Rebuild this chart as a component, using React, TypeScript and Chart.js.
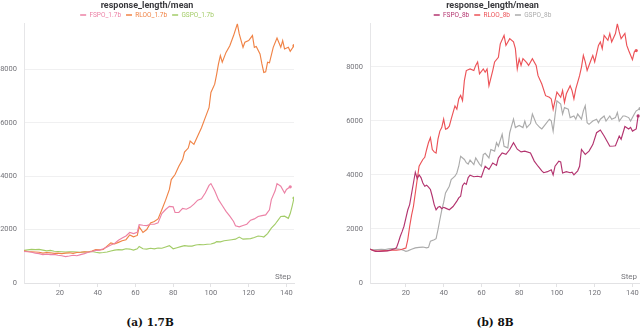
import React, { useEffect, useRef } from "react";
import { Chart, registerables } from "chart.js";

Chart.register(...registerables);

const TITLE = "response_length/mean";
const X_TICKS = [20, 40, 60, 80, 100, 120, 140];
const Y_TICKS = [0, 2000, 4000, 6000, 8000];
const X_MIN = 1;
const X_MAX = 144;

// ---------- (a) 1.7B ----------
const FSPO_17B_STEPS = [1, 3, 5, 7, 9, 11, 13, 15, 17, 19, 21, 23, 25, 27, 29, 31, 33, 35, 37, 39, 41, 43, 45, 47, 49, 51, 53, 55, 57, 59, 61, 62, 64, 66, 68, 70, 72, 74, 76, 78, 80, 81, 83, 85, 87, 89, 91, 93, 95, 97, 99, 100, 102, 104, 106, 108, 110, 112, 113, 115, 117, 119, 121, 123, 125, 127, 129, 131, 132, 134, 135, 137, 139, 140, 142];
const FSPO_17B_VALUES = [1180, 1170, 1150, 1120, 1100, 1060, 1080, 1060, 1070, 1040, 1020, 990, 1010, 1040, 1020, 1060, 1100, 1150, 1180, 1220, 1230, 1280, 1350, 1420, 1480, 1600, 1680, 1760, 1890, 1850, 1900, 2180, 2160, 2150, 2200, 2200, 2250, 2600, 2750, 2870, 2850, 2640, 2640, 2790, 2760, 2830, 2950, 3100, 3150, 3370, 3650, 3720, 3450, 3120, 2900, 2680, 2500, 2300, 2140, 2100, 2150, 2200, 2350, 2400, 2490, 2520, 2550, 2740, 3120, 3450, 3720, 3620, 3370, 3500, 3600];

const RLOO_17B_STEPS = [1, 3, 5, 7, 9, 11, 13, 15, 17, 19, 21, 23, 25, 27, 29, 31, 33, 35, 37, 39, 41, 43, 45, 47, 49, 51, 53, 55, 57, 59, 61, 62, 63, 64, 66, 68, 70, 72, 74, 76, 78, 79, 81, 83, 85, 86, 88, 89, 91, 93, 95, 97, 99, 100, 102, 103, 104, 105, 106, 108, 110, 112, 114, 115, 117, 118, 120, 122, 123, 124, 126, 127, 128, 129, 130, 131, 133, 135, 137, 138, 139, 141, 142, 144];
const RLOO_17B_VALUES = [1200, 1180, 1170, 1160, 1150, 1120, 1140, 1130, 1110, 1120, 1100, 1120, 1130, 1110, 1140, 1150, 1170, 1160, 1200, 1250, 1240, 1260, 1380, 1500, 1460, 1520, 1580, 1620, 1800, 1730, 1780, 2100, 2000, 1890, 2000, 2250, 2300, 2400, 2740, 3100, 3500, 3870, 4060, 4370, 4620, 4900, 5050, 5310, 5190, 5500, 5810, 6190, 6560, 7130, 7440, 7800, 8200, 8510, 8260, 8630, 8880, 9260, 9700, 9320, 8820, 9010, 9070, 9260, 8820, 8850, 8570, 8200, 7880, 7900, 8260, 8240, 8820, 9170, 8820, 9070, 8760, 8820, 8670, 8880];

const GSPO_17B_STEPS = [1, 3, 5, 7, 9, 11, 13, 15, 17, 19, 21, 23, 25, 27, 29, 31, 33, 35, 37, 39, 41, 43, 45, 47, 49, 51, 53, 55, 57, 59, 61, 62, 64, 66, 68, 70, 72, 74, 76, 78, 80, 82, 84, 86, 88, 90, 92, 94, 96, 98, 100, 102, 103, 105, 107, 109, 111, 113, 115, 117, 119, 121, 123, 125, 127, 128, 130, 132, 134, 135, 137, 139, 141, 142, 143, 144];
const GSPO_17B_VALUES = [1220, 1240, 1260, 1250, 1260, 1230, 1200, 1220, 1190, 1180, 1170, 1160, 1170, 1170, 1160, 1150, 1160, 1160, 1180, 1150, 1130, 1140, 1160, 1200, 1230, 1250, 1240, 1280, 1270, 1230, 1280, 1370, 1280, 1270, 1300, 1280, 1310, 1300, 1350, 1400, 1280, 1320, 1360, 1400, 1380, 1380, 1420, 1440, 1430, 1450, 1460, 1500, 1550, 1540, 1580, 1600, 1620, 1640, 1720, 1640, 1650, 1660, 1700, 1760, 1740, 1720, 1850, 2050, 2200, 2300, 2490, 2500, 2420, 2600, 2870, 3180];

// ---------- (b) 8B ----------
const FSPO_8B_STEPS = [1, 2, 4, 6, 8, 10, 12, 14, 15, 16, 17, 18, 19, 20, 21, 22, 23, 24, 25, 26, 27, 28, 29, 30, 31, 32, 33, 34, 35, 36, 37, 38, 39, 40, 41, 43, 45, 47, 48, 49, 50, 51, 52, 53, 54, 56, 58, 60, 61, 62, 64, 66, 68, 69, 71, 73, 75, 77, 79, 81, 83, 86, 88, 90, 92, 93, 95, 97, 98, 99, 101, 102, 103, 105, 107, 108, 109, 111, 112, 113, 115, 117, 119, 121, 123, 125, 127, 128, 130, 131, 133, 134, 136, 138, 139, 140, 142, 143];
const FSPO_8B_VALUES = [1260, 1220, 1170, 1170, 1180, 1190, 1220, 1270, 1300, 1500, 1720, 1900, 2100, 2400, 2700, 2900, 3300, 3700, 4100, 3860, 4000, 3900, 3700, 3580, 3620, 3550, 3460, 3200, 2900, 2710, 2800, 2830, 2750, 2800, 2770, 2710, 2830, 3030, 3150, 3210, 3600, 3700, 3650, 3900, 3990, 3930, 3950, 3920, 4130, 4320, 4200, 4440, 4350, 4630, 4810, 4760, 4940, 5190, 4950, 4850, 4880, 4810, 4510, 4320, 4150, 4080, 4120, 4190, 4000, 4320, 4510, 4480, 4070, 4120, 4080, 4100, 4000, 4150, 4320, 4940, 4760, 4880, 5120, 5560, 5660, 5440, 5190, 5060, 5070, 5080, 5440, 5320, 5790, 5700, 5760, 5620, 5700, 6180];

const RLOO_8B_STEPS = [1, 3, 5, 7, 9, 11, 13, 15, 17, 18, 19, 20, 21, 22, 23, 24, 25, 26, 27, 28, 29, 30, 31, 32, 33, 34, 35, 36, 37, 38, 39, 40, 41, 42, 43, 44, 46, 47, 48, 49, 50, 51, 52, 54, 56, 57, 58, 59, 61, 62, 63, 64, 66, 67, 69, 70, 72, 73, 75, 77, 78, 79, 80, 81, 82, 84, 85, 87, 89, 90, 92, 94, 96, 97, 98, 99, 100, 102, 103, 104, 105, 107, 108, 109, 110, 112, 113, 114, 115, 116, 118, 119, 120, 122, 123, 124, 125, 127, 128, 129, 131, 132, 133, 134, 136, 137, 138, 140, 141, 142];
const RLOO_8B_VALUES = [1250, 1200, 1180, 1190, 1200, 1200, 1220, 1210, 1230, 1250, 1270, 1290, 1600, 2090, 2500, 2830, 3330, 3830, 4320, 4450, 4570, 4650, 4940, 5200, 5380, 4940, 4850, 4810, 5320, 5620, 5750, 6060, 5690, 5720, 5800, 6060, 6550, 6430, 6810, 6940, 6750, 7500, 7860, 7920, 7860, 8050, 8180, 7740, 7920, 7800, 7920, 7300, 7860, 8180, 8350, 8850, 9160, 8790, 9040, 8920, 8670, 7920, 8290, 8050, 8300, 8150, 8050, 8300, 8050, 7670, 7360, 6930, 6870, 6810, 6430, 6750, 7060, 6870, 7120, 6680, 7000, 7300, 7120, 6810, 7180, 7670, 7990, 8420, 8180, 7860, 8240, 8420, 8180, 8790, 8920, 8670, 9160, 8980, 9230, 8920, 9230, 9590, 9290, 9040, 9230, 8790, 8600, 8260, 8550, 8600];

const GSPO_8B_STEPS = [1, 3, 5, 7, 9, 11, 13, 15, 17, 19, 20, 21, 23, 25, 27, 29, 31, 32, 33, 35, 36, 37, 38, 39, 40, 41, 43, 44, 46, 47, 48, 49, 51, 52, 53, 54, 56, 57, 59, 60, 61, 62, 64, 65, 67, 68, 69, 71, 72, 74, 75, 77, 78, 80, 82, 83, 84, 86, 87, 89, 91, 92, 94, 96, 97, 98, 99, 100, 102, 103, 104, 106, 107, 109, 110, 111, 113, 114, 115, 116, 117, 119, 121, 122, 123, 125, 126, 128, 129, 131, 132, 133, 135, 136, 138, 139, 141, 142, 144];
const GSPO_8B_VALUES = [1250, 1230, 1240, 1250, 1240, 1260, 1270, 1260, 1250, 1200, 1170, 1190, 1250, 1300, 1320, 1330, 1300, 1320, 1550, 1600, 1640, 1970, 2340, 2700, 2980, 3330, 3580, 3830, 3950, 4070, 4320, 4690, 4570, 4450, 4400, 4550, 4380, 4630, 4400, 4320, 4750, 4800, 4630, 4940, 4880, 5190, 5060, 5500, 5060, 5000, 5560, 6060, 5750, 5830, 5750, 5990, 5750, 5900, 6250, 5900, 5750, 5700, 5880, 6060, 6000, 5620, 6200, 6740, 6620, 6250, 6490, 6430, 6120, 6180, 6060, 6250, 6060, 6370, 6560, 5930, 5870, 5990, 6060, 5930, 6060, 6180, 5990, 6180, 6060, 6120, 6310, 5990, 6180, 6180, 6120, 5990, 6250, 6370, 6450];

type Series = { label: string; color: string; steps: number[]; values: number[] };

const SERIES_A: Series[] = [
  { label: "FSPO_1.7b", color: "#ec82a6", steps: FSPO_17B_STEPS, values: FSPO_17B_VALUES },
  { label: "RLOO_1.7b", color: "#f08346", steps: RLOO_17B_STEPS, values: RLOO_17B_VALUES },
  { label: "GSPO_1.7b", color: "#a3cc68", steps: GSPO_17B_STEPS, values: GSPO_17B_VALUES },
];

const SERIES_B: Series[] = [
  { label: "FSPO_8b", color: "#b3346f", steps: FSPO_8B_STEPS, values: FSPO_8B_VALUES },
  { label: "RLOO_8b", color: "#ec5257", steps: RLOO_8B_STEPS, values: RLOO_8B_VALUES },
  { label: "GSPO_8b", color: "#ababab", steps: GSPO_8B_STEPS, values: GSPO_8B_VALUES },
];

const SANS = "Roboto, 'Noto Sans', sans-serif";
const TICK_COLOR = "#74747a";

const stepLabelPlugin = {
  id: "stepLabel",
  afterDraw(chart: any) {
    const { ctx, chartArea } = chart;
    ctx.save();
    ctx.font = `8px ${SANS}`;
    ctx.fillStyle = "#77777c";
    ctx.textAlign = "right";
    ctx.textBaseline = "middle";
    ctx.fillText("Step", chartArea.right - 3, chartArea.bottom - 6);
    ctx.restore();
  },
};

function Panel(props: {
  series: Series[];
  left: number;
  yWidth: number;
  rightPad: number;
  tag: string;
  name: string;
}) {
  const ref = useRef<HTMLCanvasElement>(null);
  useEffect(() => {
    const { series, yWidth, rightPad } = props;
    const yMax = Math.max(...series.flatMap((s) => s.values));
    const chart = new Chart(ref.current as HTMLCanvasElement, {
      type: "line",
      data: {
        datasets: series.map((s) => ({
          label: s.label,
          data: s.steps.map((x, i) => ({ x, y: s.values[i] })),
          borderColor: s.color,
          backgroundColor: s.color,
          borderWidth: 1.15,
          tension: 0,
          pointRadius: (c: any) => (c.dataIndex === s.steps.length - 1 ? 1.6 : 0),
          pointHoverRadius: 0,
          pointBorderWidth: 0,
        })),
      },
      options: {
        animation: false,
        responsive: false,
        maintainAspectRatio: false,
        events: [],
        layout: { padding: { left: 0, right: rightPad, top: 0, bottom: 0 } },
        plugins: {
          title: {
            display: true,
            text: TITLE,
            color: "#3a3a3e",
            font: { family: SANS, size: 9, weight: "bold" },
            padding: { top: 0, bottom: -4 },
          },
          legend: {
            display: true,
            maxHeight: 17,
            labels: {
              usePointStyle: true,
              pointStyleWidth: 6,
              padding: 5,
              font: { family: SANS, size: 6.5 },
              generateLabels: (ch: any) =>
                ch.data.datasets.map((d: any, i: number) => ({
                  text: d.label,
                  fillStyle: d.borderColor,
                  strokeStyle: d.borderColor,
                  fontColor: d.borderColor,
                  lineWidth: 1.4,
                  pointStyle: "line",
                  hidden: false,
                  datasetIndex: i,
                })),
            },
          },
          tooltip: { enabled: false },
        },
        scales: {
          x: {
            type: "linear",
            min: X_MIN,
            max: X_MAX,
            afterBuildTicks: (s: any) => {
              s.ticks = X_TICKS.map((v) => ({ value: v }));
            },
            grid: { drawOnChartArea: false, drawTicks: true, tickLength: 4, color: "#e2e2e4" },
            border: { color: "#e2e2e4" },
            ticks: {
              padding: 2,
              color: TICK_COLOR,
              font: { family: SANS, size: 7.5 },
              maxRotation: 0,
              callback: (v: any) => String(v),
            },
          },
          y: {
            type: "linear",
            min: 0,
            max: yMax,
            afterBuildTicks: (s: any) => {
              s.ticks = Y_TICKS.map((v) => ({ value: v }));
            },
            afterFit: (s: any) => {
              s.width = yWidth;
            },
            grid: { drawTicks: false, color: "#f0f0f1" },
            border: { color: "#e6e6e8" },
            ticks: {
              padding: 7,
              color: TICK_COLOR,
              font: { family: SANS, size: 7.5 },
              callback: (v: any) => String(v),
            },
          },
        },
      },
      plugins: [stepLabelPlugin],
    } as any);
    return () => chart.destroy();
  }, []);

  return (
    <>
      <canvas
        ref={ref}
        width={300}
        height={300}
        style={{ position: "absolute", left: props.left, top: 0, width: 300, height: 300, display: "block" }}
      />
      <div
        style={{
          position: "absolute",
          left: props.left,
          top: 315,
          width: 300,
          textAlign: "center",
          fontFamily: "'DejaVu Serif', serif",
          fontWeight: "bold",
          fontSize: 10.5,
          color: "#111",
          lineHeight: "14px",
        }}
      >
        {props.tag} {props.name}
      </div>
    </>
  );
}

export default function App() {
  return (
    <div
      style={{
        position: "fixed",
        left: 0,
        top: 0,
        width: 640,
        height: 330,
        overflow: "hidden",
        background: "#fff",
      }}
    >
      <Panel series={SERIES_A} left={0} yWidth={24} rightPad={6} tag="(a)" name="1.7B" />
      <Panel series={SERIES_B} left={345} yWidth={25} rightPad={5} tag="(b)" name="8B" />
    </div>
  );
}
